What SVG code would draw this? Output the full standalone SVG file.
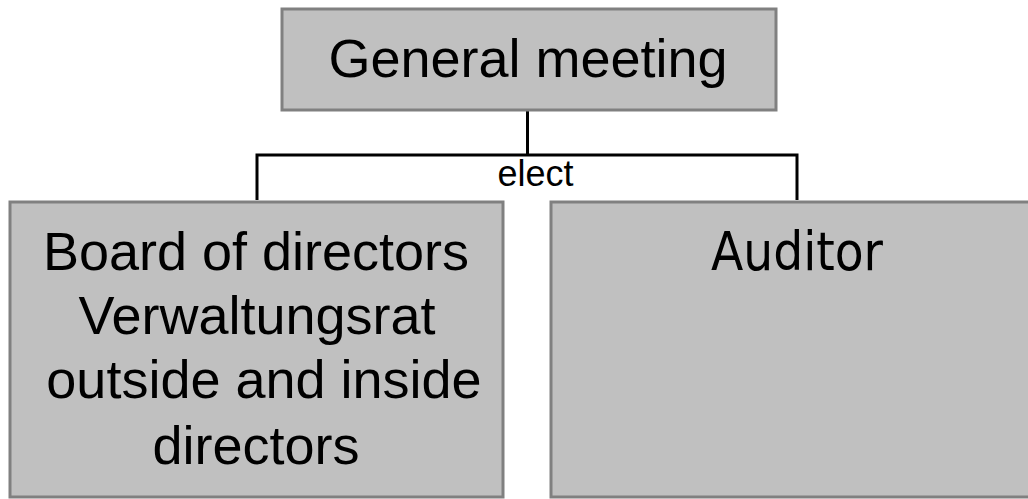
<svg xmlns="http://www.w3.org/2000/svg" width="1028" height="499" viewBox="0 0 1028 499">
<style>
.box{fill:#c0c0c0;stroke:#808080;stroke-width:3}
.t{font-family:"Liberation Sans",Arial,sans-serif;font-size:54px;fill:#000;text-anchor:middle}
.ta{font-family:"DejaVu Sans Condensed","DejaVu Sans",sans-serif;font-size:54px;fill:#000;text-anchor:middle}
.c{fill:none;stroke:#000;stroke-width:3}
.lbl{font-family:"Liberation Sans",Arial,sans-serif;font-size:36px;fill:#000;text-anchor:middle}
</style>
<g id="connectors">
<path class="c" d="M527.5 110 V155 M257 200 V155 H797 V200"/>
<text class="lbl" x="535.5" y="186">elect</text>
</g>
<g id="general-meeting">
<rect class="box" x="282" y="9" width="494" height="101"/>
<text class="t" x="528" y="77">General meeting</text>
</g>
<g id="board">
<rect class="box" x="10" y="202" width="493" height="295"/>
<text class="t" x="256" y="270">Board of directors</text>
<text class="t" x="257" y="334">Verwaltungsrat</text>
<text class="t" x="264" y="398">outside and inside</text>
<text class="t" x="256" y="464">directors</text>
</g>
<g id="auditor">
<rect class="box" x="551" y="202" width="490" height="295"/>
<text class="ta" x="797" y="270" textLength="172" lengthAdjust="spacingAndGlyphs">Auditor</text>
</g>
</svg>
